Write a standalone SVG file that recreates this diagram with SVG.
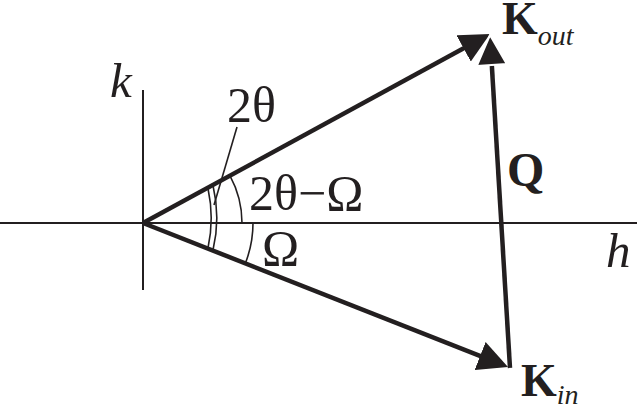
<svg xmlns="http://www.w3.org/2000/svg" width="640" height="407" viewBox="0 0 640 407">
<style>
.ax{stroke:#231f20;stroke-width:2;fill:none}
.vec{stroke:#231f20;stroke-width:4.5;fill:none}
.arc{stroke:#231f20;stroke-width:1.6;fill:none}
.t{font-family:"Liberation Serif","Times New Roman",serif;fill:#231f20}
.it{font-style:italic}
.b{font-weight:bold}
</style>
<defs>
<marker id="ah" viewBox="0 0 30 30" markerWidth="30" markerHeight="30" refX="10" refY="15" orient="auto" markerUnits="userSpaceOnUse">
<path d="M0,0 L30,15 L0,30 Z" fill="#231f20"/>
</marker>
<marker id="ahw" viewBox="-2 -2 34 34" markerWidth="34" markerHeight="34" refX="10" refY="15" orient="auto" markerUnits="userSpaceOnUse">
<path d="M0,0 L30,15 L0,30 Z" fill="#231f20" stroke="#fff" stroke-width="2" stroke-linejoin="miter"/>
</marker>
</defs>
<g id="axes">
<line class="ax" x1="0" y1="223" x2="637" y2="223"/>
<line class="ax" x1="143" y1="90" x2="143" y2="290"/>
<text class="t it" x="110" y="97" font-size="49">k</text>
<text class="t it" x="606" y="267" font-size="49">h</text>
</g>
<g id="connectors">
<line class="vec" x1="143" y1="223" x2="472.4" y2="43.6" marker-end="url(#ah)"/>
<line class="vec" x1="143" y1="223" x2="489.4" y2="359.7" marker-end="url(#ah)"/>
<line class="vec" x1="510" y1="368" x2="491.2" y2="55" marker-end="url(#ahw)"/>
</g>
<g id="angles">
<path class="arc" d="M229.9,175.7 A99,99 0 0 1 242,223"/>
<path class="arc" d="M253,223 A110,110 0 0 1 245.3,263.4"/>
<path class="arc" d="M208,188.5 A140,140 0 0 1 208,248"/>
<path class="arc" d="M213,185.5 A140,140 0 0 1 213,250"/>
<line class="arc" x1="237" y1="127" x2="214" y2="205"/>
<text class="t" x="227" y="122" font-size="50">2θ</text>
<text class="t" x="249" y="210" font-size="50">2θ−Ω</text>
<text class="t" x="262" y="265" font-size="50">Ω</text>
</g>
<g id="node-kout">
<text class="t" x="502" y="34"><tspan class="b" font-size="46">K</tspan><tspan class="it" font-size="28" dy="11">out</tspan></text>
</g>
<g id="node-q">
<text class="t b" x="507" y="186" font-size="48">Q</text>
</g>
<g id="node-kin">
<text class="t" x="521" y="396"><tspan class="b" font-size="46">K</tspan><tspan class="it" font-size="28" dy="8">in</tspan></text>
</g>
</svg>
